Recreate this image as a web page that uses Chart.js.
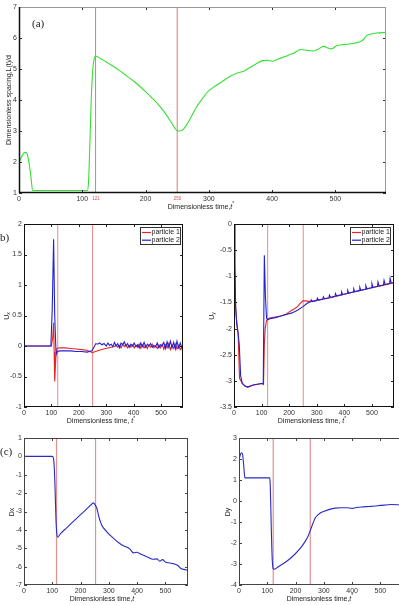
<!DOCTYPE html>
<html><head><meta charset="utf-8">
<script src="https://cdn.jsdelivr.net/npm/chart.js@4.4.1/dist/chart.umd.min.js"></script>
<style>
html,body{margin:0;padding:0;background:#fff;overflow:hidden;width:399px;height:605px}
#wrap{position:relative;width:399px;height:605px;overflow:hidden;background:#fff}
canvas{position:absolute;left:0;top:0}
</style></head><body><div id="wrap">
<canvas id="cA" width="399" height="605"></canvas>
<canvas id="cB1" width="399" height="605"></canvas>
<canvas id="cB2" width="399" height="605"></canvas>
<canvas id="cC1" width="399" height="605"></canvas>
<canvas id="cC2" width="420" height="605"></canvas>
</div>
<script>
// ---------------- data ----------------
const xTicks = [0, 100, 200, 300, 400, 500];
// (a) spacing
const aTime = [0,3,7,10,13,16,19,21.5,30,60,90,108,110,112,114.5,117,119,121,130,140,150,160,170,180,190,200,210,220,230,240,246,250,255,260,265,272,280,290,300,310,320,335,345,355,365,375,385,392,400,410,420,433,446,455,465,473,481,488,494,502,510,518,530,539,545,549,555,565,580];
const aSpacing = [1.98,2.12,2.27,2.31,2.25,1.95,1.5,1.08,1.08,1.08,1.08,1.08,1.4,2.6,4.2,5.07,5.33,5.42,5.32,5.2,5.07,4.93,4.78,4.63,4.46,4.27,4.07,3.86,3.6,3.3,3.1,3.01,3.0,3.06,3.2,3.45,3.76,4.05,4.3,4.45,4.58,4.78,4.87,4.93,5.05,5.17,5.27,5.28,5.25,5.32,5.4,5.5,5.63,5.6,5.58,5.64,5.73,5.68,5.65,5.75,5.78,5.8,5.83,5.88,5.96,6.07,6.12,6.16,6.18];
const aMarks = [121, 250];
const aMarkLabels = ['121', '250'];
// (b) Ux
const b1Time1 = [0,100,105,108,110,112,116,120,130,150,170,190,210,230,250,260,275,290,310,330,336,342,348,354,360,366,372,378,384,390,396,402,408,414,420,426,432,438,444,450,456,462,468,474,480,486,492,498,504,510,516,522,528,534,540,546,552,558,564,570,576,580];
const b1Ux1 = [0,0,0.15,0.38,-0.1,-0.58,-0.2,-0.04,-0.03,-0.03,-0.04,-0.05,-0.06,-0.07,-0.11,-0.09,-0.07,-0.05,-0.03,-0.01,0.02,-0.02,0.01,-0.03,0.03,-0.01,0.02,-0.03,0.01,-0.02,0.02,-0.03,0.01,-0.02,0.03,-0.04,0.02,-0.03,0.01,-0.04,0.02,-0.02,0.03,-0.03,0.0,-0.04,0.02,-0.03,0.03,-0.05,0.02,-0.03,0.04,-0.06,0.02,-0.04,0.03,-0.05,0.01,-0.06,0.0,-0.03];
const b1Time2 = [0,98,103,108,112,117,122,130,150,170,190,210,230,248,255,262,268,276,284,292,300,306,312,318,324,330,336,342,348,354,360,366,372,378,384,390,396,402,408,414,420,426,432,438,444,450,456,462,468,474,480,486,492,498,504,510,516,522,528,534,540,546,552,558,564,570,576,580];
const b1Ux2 = [0,0,0.6,1.75,0.5,-0.14,-0.09,-0.08,-0.08,-0.08,-0.09,-0.09,-0.1,-0.08,-0.02,0.04,0.03,0.05,0.02,0.04,0.0,0.05,0.01,0.03,-0.01,0.06,0.0,0.04,-0.03,0.05,0.02,0.07,0.0,0.04,-0.02,0.03,0.0,0.05,-0.01,0.02,-0.03,0.05,-0.01,0.06,-0.02,0.03,0.0,0.04,-0.02,0.01,-0.01,0.05,-0.03,0.02,0.0,0.06,-0.04,0.07,-0.02,0.08,-0.03,0.06,-0.05,0.08,-0.03,0.05,-0.04,0.02];
const b1Marks = [123, 250];
// (b) Uy
const b2Time1 = [0,3,6,10,15,20,25,30,40,50,60,70,80,90,100,107,110,113,118,122,130,150,170,190,200,210,220,230,240,250,260,270,280,300,350,400,450,500,550,580];
const b2Uy1 = [0,-0.8,-1.6,-1.9,-2.1,-2.95,-3.0,-3.05,-3.1,-3.12,-3.1,-3.08,-3.07,-3.06,-3.05,-3.07,-2.3,-2.0,-1.85,-1.82,-1.8,-1.78,-1.76,-1.72,-1.68,-1.65,-1.62,-1.58,-1.52,-1.47,-1.47,-1.48,-1.48,-1.46,-1.41,-1.345,-1.28,-1.22,-1.16,-1.12];
const b2Time2 = [0,3,6,10,15,19,24,30,40,50,60,70,80,90,100,106,110,114,118,122,130,150,170,190,210,230,250,262,270,278,280,284,300,302,306,322,324,328,344,346,350,366,368,372,388,390,394,410,412,416,432,434,438,454,456,460,476,478,482,498,500,504,520,522,526,542,544,548,564,566,570,580];
const b2Uy2 = [0,-0.8,-1.6,-1.9,-2.1,-2.3,-2.9,-3.05,-3.1,-3.12,-3.1,-3.08,-3.07,-3.06,-3.05,-3.05,-0.6,-1.4,-1.8,-1.83,-1.81,-1.79,-1.76,-1.73,-1.7,-1.65,-1.58,-1.53,-1.5,-1.49,-1.45,-1.483,-1.463,-1.42,-1.456,-1.436,-1.39,-1.429,-1.409,-1.36,-1.402,-1.382,-1.33,-1.375,-1.355,-1.30,-1.348,-1.328,-1.27,-1.321,-1.301,-1.24,-1.294,-1.274,-1.21,-1.267,-1.247,-1.18,-1.24,-1.22,-1.14,-1.213,-1.193,-1.11,-1.186,-1.166,-1.08,-1.159,-1.139,-1.04,-1.132,-1.12];
const b2Marks = [122, 251];
// (c) Dx
const c1Time = [0,100,104,107,110,113,116,119,130,150,170,190,210,230,240,245,250,258,265,275,290,305,320,335,350,365,375,387,400,410,425,440,455,470,480,490,500,515,530,545,555,565,580];
const c1Dx = [0,0,-0.1,-0.6,-1.8,-3.4,-4.2,-4.4,-4.19,-3.9,-3.61,-3.32,-3.03,-2.74,-2.59,-2.53,-2.6,-2.85,-3.3,-3.75,-4.05,-4.3,-4.5,-4.7,-4.85,-4.95,-5.05,-5.25,-5.22,-5.3,-5.4,-5.5,-5.6,-5.58,-5.7,-5.62,-5.75,-5.8,-5.85,-5.95,-6.1,-6.15,-6.2];
const c1Marks = [115, 253];
// (c) Dy
const c2Time = [0,3,7,10,13,16,19,21,108,110,112,114,116,118,121,125,140,160,180,200,220,235,245,255,262,270,280,290,305,320,340,360,380,400,420,440,460,480,500,520,540,560,580];
const c2Dy = [2.0,2.12,2.27,2.3,2.2,1.8,1.3,1.1,1.1,0.9,0.0,-1.2,-2.2,-2.9,-3.22,-3.25,-3.12,-2.95,-2.75,-2.5,-2.2,-1.9,-1.65,-1.3,-1.05,-0.8,-0.65,-0.55,-0.47,-0.4,-0.34,-0.32,-0.32,-0.35,-0.3,-0.28,-0.26,-0.24,-0.21,-0.19,-0.17,-0.18,-0.2];
const c2Marks = [121, 252];
const seriesLabels = ['particle 1', 'particle 2'];

// ---------------- helpers ----------------
const FONT = "'Liberation Sans', Arial, Helvetica, sans-serif";
const SERIF = "'Liberation Serif', 'Times New Roman', serif";
Chart.defaults.font.family = FONT;

function pts(xs, ys) { return xs.map((x, i) => ({x: x, y: ys[i]})); }
function vlines(marks, y0, y1, color, w) {
  return marks.map(m => ({data: [{x: m, y: y0}, {x: m, y: y1}], borderColor: color, borderWidth: w, pointRadius: 0, tension: 0, order: 10}));
}

const framePlugin = {
  id: 'frame',
  afterDatasetsDraw(chart, args, o) {
    const {ctx, chartArea: a, scales: {x, y}} = chart;
    const len = 3;
    ctx.save();
    ctx.lineWidth = 1;
    ctx.strokeStyle = o.tickColor || '#222';
    ctx.beginPath();
    x.ticks.forEach(t => {
      const px = Math.round(x.getPixelForValue(t.value)) + 0.5;
      ctx.moveTo(px, a.bottom); ctx.lineTo(px, a.bottom - len);
      ctx.moveTo(px, a.top); ctx.lineTo(px, a.top + len);
    });
    y.ticks.forEach(t => {
      const py = Math.round(y.getPixelForValue(t.value)) + 0.5;
      ctx.moveTo(a.left, py); ctx.lineTo(a.left + len, py);
      ctx.moveTo(a.right, py); ctx.lineTo(a.right - len, py);
    });
    ctx.stroke();
    ctx.strokeStyle = o.trColor || '#222';
    ctx.lineWidth = o.trWidth || 1;
    ctx.beginPath();
    ctx.moveTo(a.left, a.top + 0.5); ctx.lineTo(a.right, a.top + 0.5);
    ctx.moveTo(a.right - 0.5, a.top); ctx.lineTo(a.right - 0.5, a.bottom);
    ctx.stroke();
    ctx.strokeStyle = o.lbColor || '#222';
    ctx.lineWidth = o.lbWidth || 1;
    ctx.beginPath();
    ctx.moveTo(a.left + 0.5, a.top); ctx.lineTo(a.left + 0.5, a.bottom);
    ctx.moveTo(a.left, a.bottom - 0.5); ctx.lineTo(a.right, a.bottom - 0.5);
    ctx.stroke();
    ctx.restore();
  }
};

function drawRich(ctx, parts, x, y, rot, align) {
  ctx.save();
  ctx.translate(x, y);
  ctx.rotate(rot || 0);
  let w = 0;
  parts.forEach(p => { ctx.font = p.font; p.w = ctx.measureText(p.t).width; w += p.w; });
  let cx = align === 'left' ? 0 : (align === 'right' ? -w : -w / 2);
  ctx.textBaseline = 'middle';
  ctx.textAlign = 'left';
  parts.forEach(p => { ctx.font = p.font; ctx.fillStyle = p.color || '#222'; ctx.fillText(p.t, cx, p.dy || 0); cx += p.w; });
  ctx.restore();
}

const textPlugin = {
  id: 'texts',
  afterDraw(chart, args, o) {
    (o.items || []).forEach(it => drawRich(chart.ctx, it.parts, it.x, it.y, it.rot, it.align));
  }
};

const legendPlugin = {
  id: 'plegend',
  afterDraw(chart, args, o) {
    if (!o || !o.box) return;
    const ctx = chart.ctx, b = o.box;
    ctx.save();
    ctx.fillStyle = '#fff';
    ctx.fillRect(b.x, b.y, b.w, b.h);
    ctx.strokeStyle = '#333';
    ctx.lineWidth = 1;
    ctx.strokeRect(b.x + 0.5, b.y + 0.5, b.w - 1, b.h - 1);
    const ds = chart.data.datasets.filter(d => d.label).sort((p, q) => seriesLabels.indexOf(p.label) - seriesLabels.indexOf(q.label));
    ctx.font = '7px ' + FONT;
    ctx.textBaseline = 'middle';
    ctx.textAlign = 'left';
    ds.forEach((d, i) => {
      const yy = b.y + 5.5 + i * 7.7;
      ctx.strokeStyle = d.borderColor;
      ctx.lineWidth = 1.2;
      ctx.beginPath(); ctx.moveTo(b.x + 2, yy); ctx.lineTo(b.x + 11, yy); ctx.stroke();
      ctx.fillStyle = '#222';
      ctx.fillText(d.label, b.x + 11.5, yy);
    });
    ctx.restore();
  }
};

const tickFont = {size: 7, family: FONT};
const timeTitle = (sep) => [
  {t: 'Dimensionless time,' + sep, font: '7px ' + FONT},
  {t: 't', font: 'italic 7px ' + FONT},
  {t: '*', font: '5px ' + FONT, dy: -3}
];
const fmt = v => String(+(+v).toFixed(2));

function makeChart(id, cw, box, yc, datasets, extra) {
  return new Chart(document.getElementById(id), {
    type: 'line',
    data: {datasets: datasets},
    options: {
      responsive: false, animation: false, devicePixelRatio: 1, events: [],
      layout: {padding: {left: 0, top: box.top, right: cw - box.right, bottom: 0}},
      plugins: {legend: {display: false}, tooltip: {enabled: false},
        frame: extra.frame || {}, texts: {items: extra.texts || []}, plegend: extra.legend || {}},
      elements: {point: {radius: 0}, line: {borderWidth: 1}},
      scales: {
        x: {type: 'linear', min: 0, max: 580,
          afterBuildTicks: s => { s.ticks = xTicks.map(v => ({value: v})); },
          afterFit: s => { s.height = 605 - box.bottom; },
          grid: {display: false, drawTicks: false}, border: {display: false},
          ticks: {stepSize: 100, padding: 2, font: tickFont, color: '#333', maxRotation: 0, autoSkip: false, callback: fmt}},
        y: {type: 'linear', min: yc.min, max: yc.max,
          afterFit: s => { s.width = box.left; },
          grid: {display: false, drawTicks: false}, border: {display: false},
          ticks: {stepSize: yc.step, padding: 2, font: tickFont, color: '#333', autoSkip: false, callback: fmt}}
      }
    },
    plugins: [framePlugin, legendPlugin, textPlugin]
  });
}

const RED = '#e52525', BLUE = '#2222d4';

// (a)
makeChart('cA', 399, {left: 19, top: 7, right: 386, bottom: 193}, {min: 1, max: 7, step: 1}, [
  {data: pts(aTime, aSpacing), borderColor: '#33e033', borderWidth: 1.1, cubicInterpolationMode: 'monotone', order: 1},
  ...vlines(aMarks, 1, 7, '#d97a7a', 1)
], {
  frame: {lbColor: '#111', lbWidth: 1.5, trColor: '#999', trWidth: 1, tickColor: '#333'},
  texts: [
    {parts: [{t: 'Dimensionless spacing,L(t)/d', font: '7px ' + FONT}], x: 9, y: 100, rot: -Math.PI / 2},
    {parts: timeTitle(''), x: 201, y: 207},
    {parts: [{t: '(a)', font: '11px ' + SERIF}], x: 32, y: 24.5, align: 'left'},
    {parts: [{t: aMarkLabels[0], font: '4.5px ' + FONT, color: '#e05050'}], x: 96, y: 199},
    {parts: [{t: aMarkLabels[1], font: '4.5px ' + FONT, color: '#e05050'}], x: 177.5, y: 199}
  ]
});

// (b) left
makeChart('cB1', 399, {left: 24, top: 224, right: 183, bottom: 407}, {min: -1, max: 2, step: 0.5}, [
  {label: seriesLabels[1], data: pts(b1Time2, b1Ux2), borderColor: BLUE, borderWidth: 1.1, tension: 0, order: 1},
  {label: seriesLabels[0], data: pts(b1Time1, b1Ux1), borderColor: RED, borderWidth: 1.1, tension: 0, order: 2},
  ...vlines(b1Marks, -1, 2, '#e86a6a', 0.8)
], {
  frame: {lbColor: '#111', trColor: '#111', tickColor: '#222'},
  legend: {box: {x: 140, y: 227, w: 41, h: 18}},
  texts: [
    {parts: [{t: 'U', font: '7px ' + FONT}, {t: 'x', font: '5px ' + FONT, dy: 2}], x: 7, y: 316, rot: -Math.PI / 2},
    {parts: timeTitle(' '), x: 101, y: 421.5},
    {parts: [{t: 'b)', font: '11px ' + SERIF}], x: 0, y: 238.5, align: 'left'}
  ]
});

// (b) right
makeChart('cB2', 399, {left: 234, top: 224, right: 394, bottom: 407}, {min: -3.5, max: 0, step: 0.5}, [
  {label: seriesLabels[1], data: pts(b2Time2, b2Uy2), borderColor: BLUE, borderWidth: 1.1, tension: 0, order: 1},
  {label: seriesLabels[0], data: pts(b2Time1, b2Uy1), borderColor: RED, borderWidth: 1.1, tension: 0, order: 2},
  ...vlines(b2Marks, -3.5, 0, '#e86a6a', 0.8)
], {
  frame: {lbColor: '#111', trColor: '#111', tickColor: '#222'},
  legend: {box: {x: 350, y: 227, w: 41, h: 18}},
  texts: [
    {parts: [{t: 'U', font: '7px ' + FONT}, {t: 'y', font: '5px ' + FONT, dy: 2}], x: 212, y: 316, rot: -Math.PI / 2},
    {parts: timeTitle(' '), x: 312, y: 421.5}
  ]
});

// (c) left
makeChart('cC1', 399, {left: 24, top: 438, right: 188, bottom: 585}, {min: -7, max: 1, step: 1}, [
  {data: pts(c1Time, c1Dx), borderColor: '#2a2ac8', borderWidth: 1.1, cubicInterpolationMode: 'monotone', order: 1},
  ...vlines(c1Marks, -7, 1, '#e39090', 1.2)
], {
  frame: {lbColor: '#444', trColor: '#444', tickColor: '#444'},
  texts: [
    {parts: [{t: 'Dx', font: '7px ' + FONT}], x: 12, y: 512, rot: -Math.PI / 2},
    {parts: timeTitle(''), x: 103, y: 599},
    {parts: [{t: '(c)', font: '11px ' + SERIF}], x: 0, y: 452.5, align: 'left'}
  ]
});

// (c) right
makeChart('cC2', 420, {left: 239, top: 438, right: 403, bottom: 585}, {min: -4, max: 3, step: 1}, [
  {data: pts(c2Time, c2Dy), borderColor: '#2a2ac8', borderWidth: 1.1, cubicInterpolationMode: 'monotone', order: 1},
  ...vlines(c2Marks, -4, 3, '#e39090', 1.2)
], {
  frame: {lbColor: '#444', trColor: '#444', tickColor: '#444'},
  texts: [
    {parts: [{t: 'Dy', font: '7px ' + FONT}], x: 228, y: 512, rot: -Math.PI / 2},
    {parts: timeTitle(''), x: 320, y: 599}
  ]
});
</script>
</body></html>
